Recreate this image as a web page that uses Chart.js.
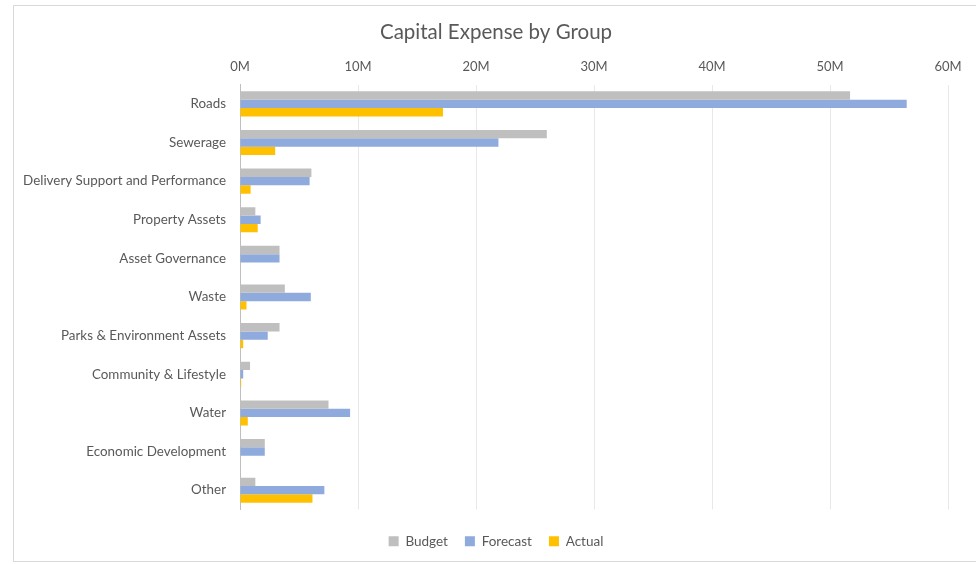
<!DOCTYPE html>
<html lang="en">
<head>
    <meta charset="UTF-8">
    <title>Capital Expense by Group</title>
    <style>
        body {
            margin: 0;
            background: #fff;
        }
        #marco {
            position: absolute;
            left: 13px;
            top: 5px;
            width: 975px;
            height: 557px;
            border: 1px solid #D9D9D9;
            box-sizing: border-box;
        }
        #contenedor {
            position: absolute;
            left: 0;
            top: 0;
            width: 976px;
            height: 564px;
        }
    </style>
</head>
<body>
    <div id="marco"></div>
    <div id="contenedor"><canvas id="grafica"></canvas></div>

    <script src="https://cdn.jsdelivr.net/npm/chart.js"></script>
    <script>
        // values in millions
        let grupos = ['Roads', 'Sewerage', 'Delivery Support and Performance', 'Property Assets',
            'Asset Governance', 'Waste', 'Parks & Environment Assets', 'Community & Lifestyle',
            'Water', 'Economic Development', 'Other'];
        let budget = [51.7, 26.0, 6.05, 1.3, 3.35, 3.8, 3.35, 0.85, 7.5, 2.1, 1.3];
        let forecast = [56.5, 21.9, 5.9, 1.75, 3.35, 6.0, 2.35, 0.27, 9.33, 2.1, 7.15];
        let actual = [17.2, 2.98, 0.9, 1.5, 0, 0.55, 0.27, 0.1, 0.66, 0, 6.14];
        let ejeMax = 60;
        let ejePaso = 10;

        let fuente = "Lato, 'Open Sans', sans-serif";
        let gris = '#595959';

        // the long category names need room left of the padding, widen the label clip
        let ensancharEtiquetas = {
            id: 'ensancharEtiquetas',
            afterLayout: function(chart) {
                chart.scales.y.left = 0;
            }
        };

        new Chart(document.getElementById('grafica').getContext('2d'), {
            type: 'bar',
            data: {
                labels: grupos,
                datasets: [
                    { label: 'Budget', data: budget, backgroundColor: '#BFBFBF' },
                    { label: 'Forecast', data: forecast, backgroundColor: '#8FAADC' },
                    { label: 'Actual', data: actual, backgroundColor: '#FFC000' }
                ]
            },
            plugins: [ensancharEtiquetas],
            options: {
                indexAxis: 'y',
                responsive: true,
                maintainAspectRatio: false,
                animation: false,
                layout: { padding: { left: 44, right: 28, top: 0, bottom: 6 } },
                datasets: {
                    bar: { categoryPercentage: 0.65, barPercentage: 1.0 }
                },
                plugins: {
                    title: {
                        display: true,
                        text: 'Capital Expense by Group',
                        color: gris,
                        font: { family: fuente, size: 20.5, weight: 'normal' },
                        padding: { top: 20, bottom: 0 }
                    },
                    legend: {
                        position: 'bottom',
                        labels: {
                            color: gris,
                            font: { family: fuente, size: 13.5 },
                            boxWidth: 10,
                            boxHeight: 10,
                            padding: 17
                        }
                    },
                    tooltip: { enabled: false }
                },
                scales: {
                    x: {
                        position: 'top',
                        min: 0,
                        max: ejeMax,
                        ticks: {
                            stepSize: ejePaso,
                            color: gris,
                            padding: 10,
                            font: { family: fuente, size: 13 },
                            callback: function(v) { return v + 'M'; }
                        },
                        grid: { color: '#E8E8E8', drawTicks: false },
                        border: { display: false },
                        afterFit: function(scale) { scale.height = 40; }
                    },
                    // empty spacer below the plot
                    xAbajo: {
                        axis: 'x',
                        position: 'bottom',
                        ticks: { display: false },
                        grid: { display: false, drawTicks: false },
                        border: { display: false },
                        afterFit: function(scale) { scale.height = 8; }
                    },
                    y: {
                        ticks: {
                            color: gris,
                            padding: 14,
                            font: { family: fuente, size: 13.4 }
                        },
                        grid: { display: false, drawTicks: false },
                        border: { display: true, color: '#BFBFBF' },
                        afterFit: function(scale) { scale.width = 196; }
                    }
                }
            }
        });
    </script>
</body>
</html>
